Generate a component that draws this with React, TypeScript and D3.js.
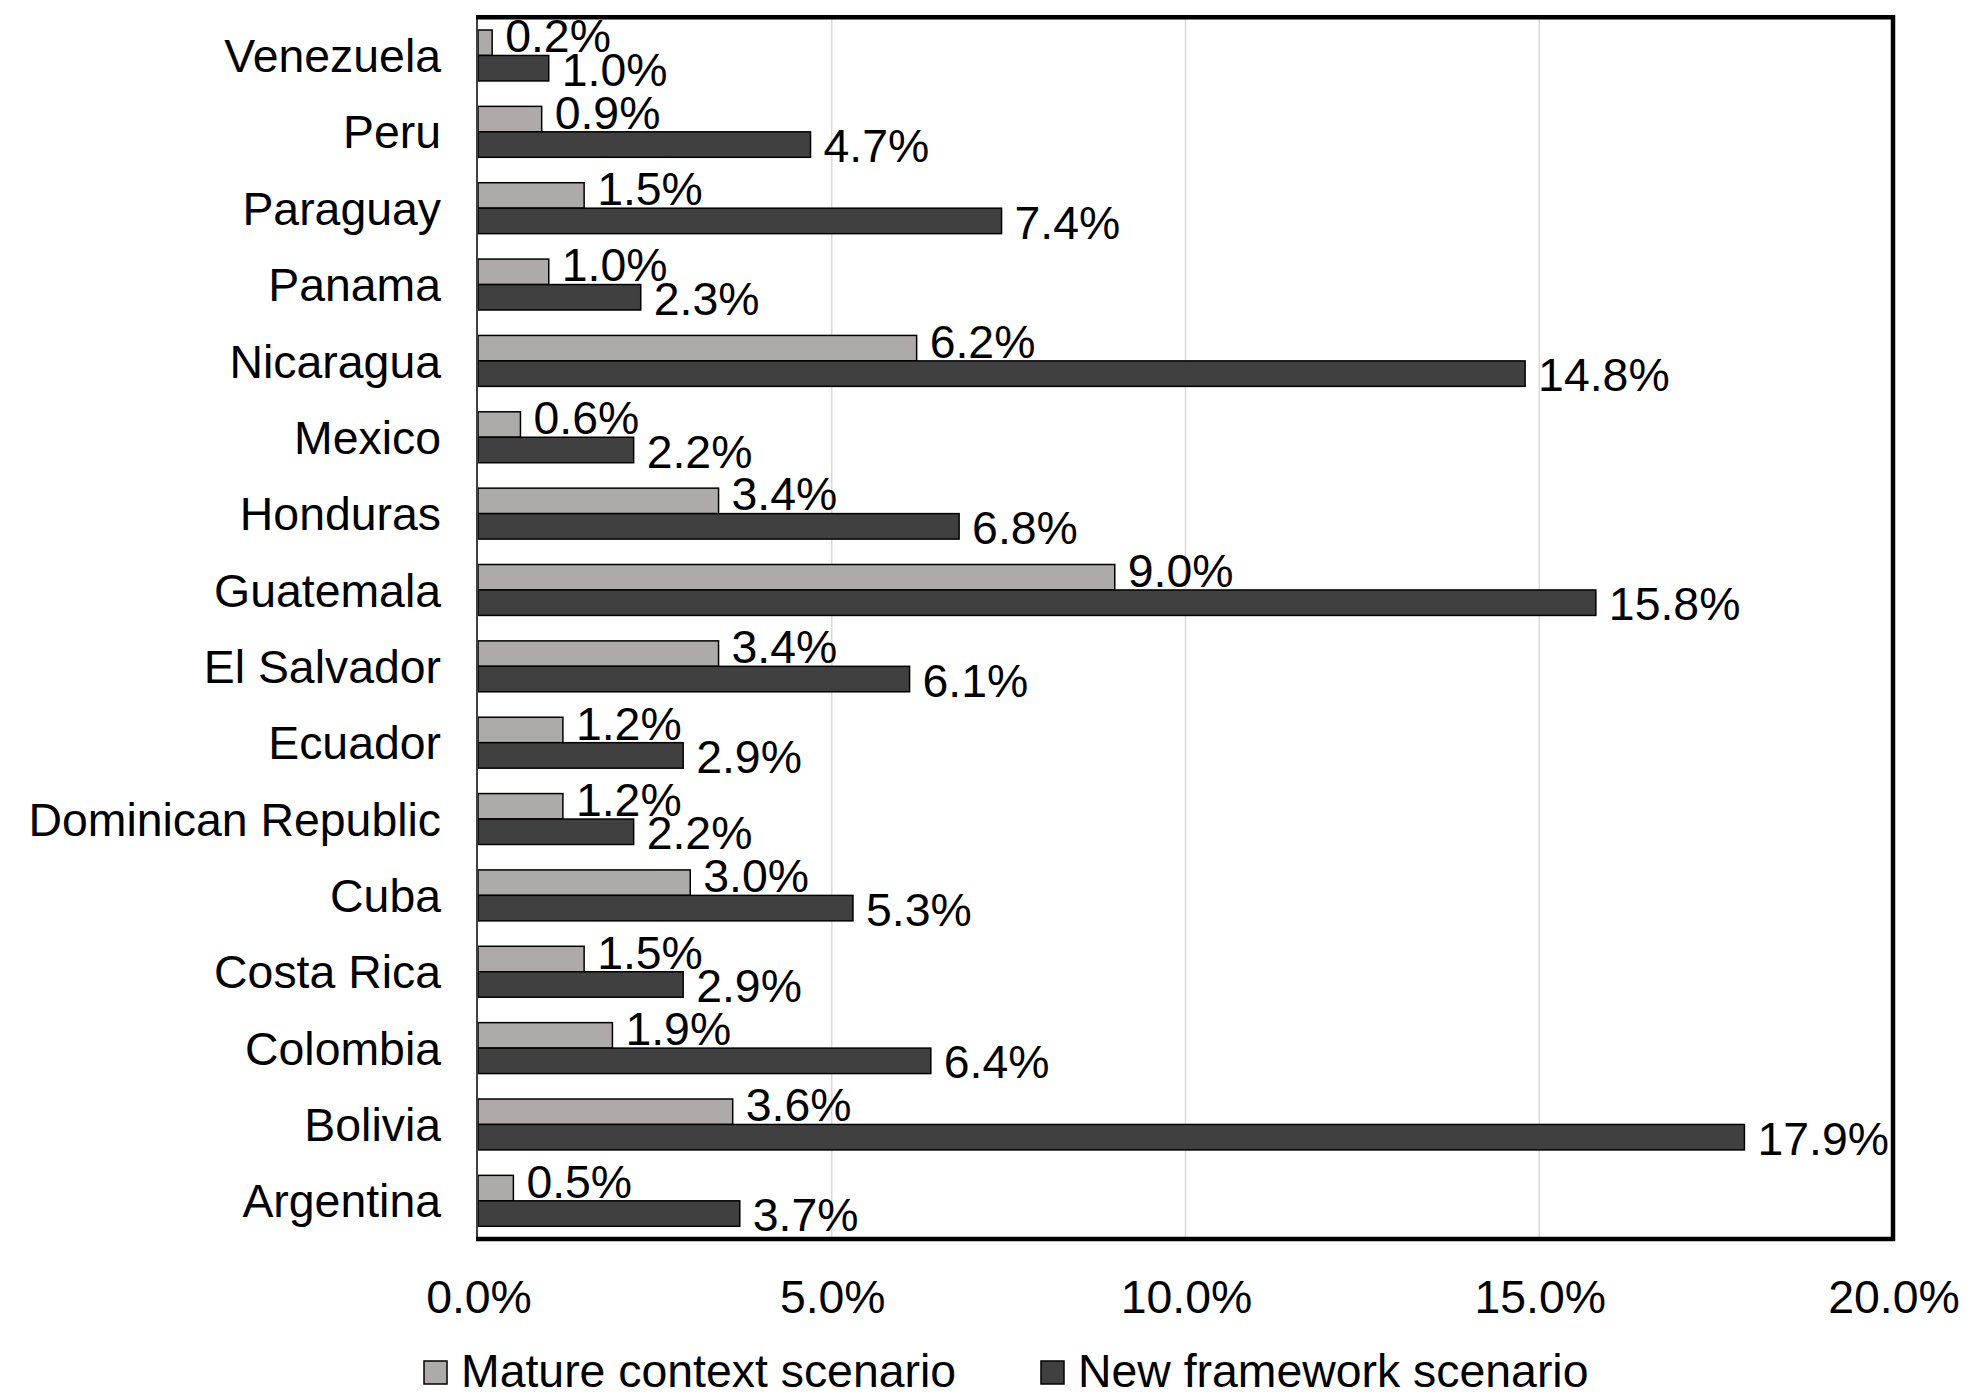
import React from "react";
import * as d3 from "d3";

const categories = [
  "Venezuela",
  "Peru",
  "Paraguay",
  "Panama",
  "Nicaragua",
  "Mexico",
  "Honduras",
  "Guatemala",
  "El Salvador",
  "Ecuador",
  "Dominican Republic",
  "Cuba",
  "Costa Rica",
  "Colombia",
  "Bolivia",
  "Argentina",
];

const matureValues = [0.2, 0.9, 1.5, 1.0, 6.2, 0.6, 3.4, 9.0, 3.4, 1.2, 1.2, 3.0, 1.5, 1.9, 3.6, 0.5];
const newValues = [1.0, 4.7, 7.4, 2.3, 14.8, 2.2, 6.8, 15.8, 6.1, 2.9, 2.2, 5.3, 2.9, 6.4, 17.9, 3.7];

const xTicks = [0, 5, 10, 15, 20];
const seriesNames = ["Mature context scenario", "New framework scenario"];

const W = 1972;
const H = 1397;
const X0 = 478;
const X1 = 1893;
const Y0 = 17.3;
const Y1 = 1239;
const FONT = "'Liberation Sans', Arial, Helvetica, sans-serif";
const FS = 46.4;
const COLORS = ["#aeaaaa", "#404040"];

export default function App() {
  const x = d3.scaleLinear().domain([0, 20]).range([X0, X1]);
  const y = d3
    .scaleBand<string>()
    .domain(categories)
    .range([Y0, Y1])
    .paddingInner(0.333)
    .paddingOuter(0.1665);
  const sub = d3
    .scaleBand<string>()
    .domain(["mature", "new"])
    .range([0, y.bandwidth()])
    .padding(0);

  const series = [
    { key: "mature", values: matureValues, color: COLORS[0], labelDy: -7 },
    { key: "new", values: newValues, color: COLORS[1], labelDy: 1 },
  ];
  const fmt = d3.format(".1f");
  const capHalf = FS * 0.358;

  return (
    <svg
      width={W}
      height={H}
      style={{ position: "absolute", left: 0, top: 0, background: "#fff" }}
      fontFamily={FONT}
    >
      <rect x={0} y={0} width={W} height={H} fill="#fff" />
      {/* gridlines */}
      {xTicks
        .filter((t) => t > 0 && t < 20)
        .map((t) => (
          <line key={t} x1={x(t)} x2={x(t)} y1={Y0} y2={Y1} stroke="#d9d9d9" strokeWidth={1.5} />
        ))}
      {/* bars */}
      {series.map((s) =>
        categories.map((c, i) => (
          <rect
            key={s.key + c}
            x={x(0)}
            y={(y(c) as number) + (sub(s.key) as number)}
            width={x(s.values[i]) - x(0)}
            height={sub.bandwidth()}
            fill={s.color}
            stroke="#000"
            strokeWidth={1.5}
          />
        ))
      )}
      {/* data labels */}
      {series.map((s) =>
        categories.map((c, i) => {
          const cy = (y(c) as number) + (sub(s.key) as number) + sub.bandwidth() / 2;
          return (
            <text
              key={"l" + s.key + c}
              x={x(s.values[i]) + 13}
              y={cy + capHalf + s.labelDy}
              fontSize={FS}
              fill="#000"
            >
              {fmt(s.values[i]) + "%"}
            </text>
          );
        })
      )}
      {/* left axis */}
      <line x1={X0 - 1} x2={X0 - 1} y1={Y0} y2={Y1} stroke="#404040" strokeWidth={2} />
      {/* frame top/right/bottom */}
      <path
        d={`M${X0 - 2},${Y0} H${X1} V${Y1} H${X0 - 2}`}
        fill="none"
        stroke="#000"
        strokeWidth={4.5}
      />
      {/* category labels */}
      {categories.map((c) => (
        <text
          key={"c" + c}
          x={441}
          y={(y(c) as number) + y.bandwidth() / 2 + capHalf}
          fontSize={FS}
          textAnchor="end"
          fill="#000"
        >
          {c}
        </text>
      ))}
      {/* x tick labels */}
      {xTicks.map((t) => (
        <text key={"t" + t} x={x(t) + 1} y={1312.5} fontSize={FS} textAnchor="middle" fill="#000">
          {fmt(t) + "%"}
        </text>
      ))}
      {/* legend */}
      {seriesNames.map((n, i) => {
        const lx = i === 0 ? 424 : 1041;
        return (
          <g key={n}>
            <rect x={lx} y={1361} width={23} height={23} fill={COLORS[i]} stroke="#000" strokeWidth={1.5} />
            <text x={lx + 37} y={1387} fontSize={FS} fill="#000">
              {n}
            </text>
          </g>
        );
      })}
    </svg>
  );
}
